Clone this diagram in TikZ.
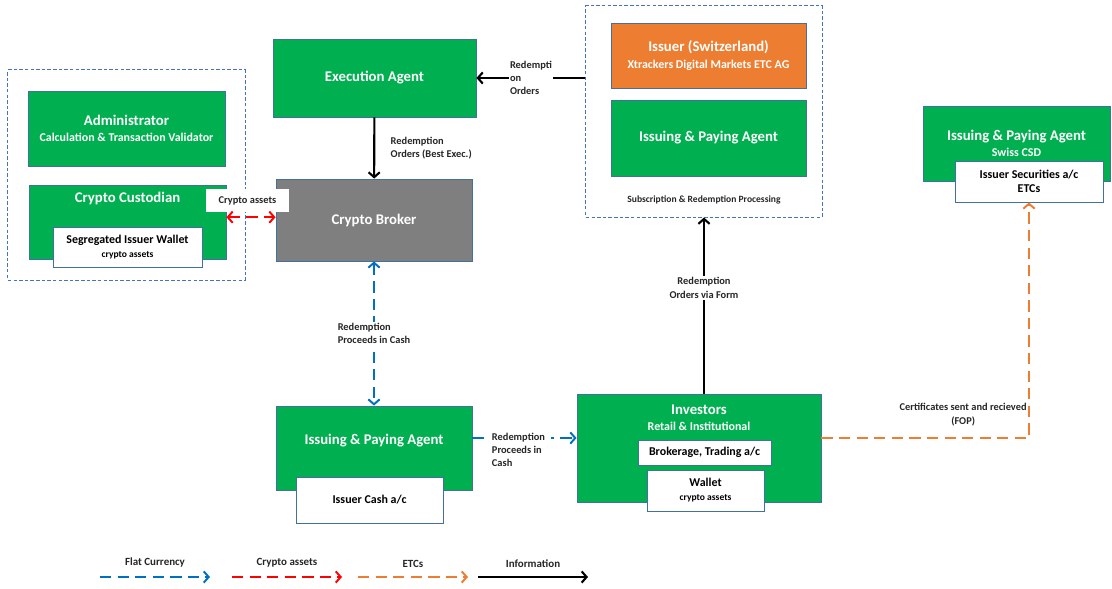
\documentclass[tikz,border=0pt]{standalone}
\usepackage{fontspec}
\setmainfont{Carlito}
\usepackage{tikz}
\usetikzlibrary{positioning, arrows.meta}

\definecolor{agentgreen}{HTML}{00B050}
\definecolor{issuerorange}{HTML}{ED7D31}
\definecolor{brokergray}{HTML}{7F7F7F}
\definecolor{boxline}{HTML}{41719C}
\definecolor{groupline}{HTML}{4472C4}
\definecolor{fiatblue}{HTML}{0070C0}
\definecolor{cryptored}{HTML}{FF0000}
\definecolor{etcorange}{HTML}{ED7D31}
\definecolor{lbltext}{HTML}{262626}

\newcommand{\SubSize}{\fontsize{8.5}{10}\selectfont}
\newcommand{\TinySize}{\fontsize{6.8}{8}\selectfont}

\tikzset{
  >={Straight Barb[length=3.5pt,width=8pt]},
  party/.style={draw=boxline, line width=0.6pt, fill=agentgreen, text=white,
    font=\fontsize{10.5}{12.5}\selectfont\bfseries, align=center, inner sep=0pt},
  ttl/.style={text=white, font=\fontsize{10.5}{12.5}\selectfont\bfseries, align=center, inner sep=0pt},
  acct/.style={draw=boxline, line width=0.6pt, fill=white,
    font=\fontsize{8.5}{10}\selectfont\bfseries, align=center, inner sep=0pt},
  group/.style={draw=groupline, line width=0.7pt, dash pattern=on 2.5pt off 1.5pt},
  lbl/.style={font=\fontsize{7.4}{9.5}\selectfont\bfseries, text=lbltext, align=left, fill=white, inner sep=1pt},
  info/.style={draw=black, line width=1.5pt},
  fiat/.style={draw=fiatblue, line width=1.4pt, dash pattern=on 8pt off 4.5pt},
  crypto/.style={draw=cryptored, line width=1.4pt, dash pattern=on 8pt off 4.5pt},
  etc/.style={draw=etcorange, line width=1.4pt, dash pattern=on 8pt off 4.5pt}
}

\begin{document}
\begin{tikzpicture}[x=0.025cm, y=-0.025cm]
\useasboundingbox (0,0) rectangle (1112,588);

% dashed groups
\node[group, minimum width=5.925cm, minimum height=5.25cm] (lgroup) at (126.5,175) {};
\node[group, minimum width=5.9cm, minimum height=5.275cm] (rgroup) at (704,111.5) {};

% left group
\node[party, minimum width=4.925cm, minimum height=1.875cm] (admin) at (126.5,128.5)
    {Administrator\\[-1pt]{\SubSize Calculation \& Transaction Validator}};
\node[party, minimum width=4.925cm, minimum height=1.85cm] (cust) at (127.5,222) {};
\node[ttl] (custT) at (127.5,198) {Crypto Custodian};
\node[acct, minimum width=3.725cm, minimum height=1cm] (segwallet) at (127.5,247)
    {Segregated Issuer Wallet\\{\TinySize crypto assets}};

% centre column
\node[party, minimum width=5.075cm, minimum height=1.95cm] (exec) at (374.5,78) {Execution Agent};
\node[party, fill=brokergray, minimum width=4.9cm, minimum height=2.05cm] (broker) at (374,220) {Crypto Broker};
\node[lbl, align=center, minimum width=2.075cm, minimum height=0.575cm] (cryptolbl) at (247.5,200.5) {Crypto assets};

% right group
\node[party, fill=issuerorange, minimum width=4.875cm, minimum height=1.625cm] (issuer) at (708.5,55.5)
    {Issuer (Switzerland)\\[-1pt]{\SubSize Xtrackers Digital Markets ETC AG}};
\node[party, minimum width=4.875cm, minimum height=1.9cm] (ipa) at (708.5,138) {Issuing \& Paying Agent};
\node[lbl, fill=none, font=\fontsize{6.8}{8}\selectfont\bfseries] (subred) at (704,200) {Subscription \& Redemption Processing};

% swiss csd
\node[party, minimum width=4.675cm, minimum height=1.875cm] (csd) at (1016.5,143.5)
    {Issuing \& Paying Agent\\[-1pt]{\SubSize Swiss CSD}};
\node[acct, minimum width=3.7cm, minimum height=1.025cm] (secac) at (1029,181.5) {Issuer Securities a/c\\ETCs};

% bottom row
\node[party, minimum width=4.9cm, minimum height=2.1cm] (cashipa) at (374,448) {};
\node[ttl] (cashipaT) at (374,441) {Issuing \& Paying Agent};
\node[acct, minimum width=3.675cm, minimum height=1.15cm] (cashac) at (369.5,500) {Issuer Cash a/c};
\node[party, minimum width=6.1cm, minimum height=2.7cm] (inv) at (699,448) {};
\node[ttl] (invT) at (699,418) {Investors\\[-1pt]{\SubSize Retail \& Institutional}};
\node[acct, minimum width=3.325cm, minimum height=0.625cm] (brokac) at (704.5,452.5) {Brokerage, Trading a/c};
\node[acct, minimum width=2.925cm, minimum height=1.025cm] (wallet) at (705.5,490.5)
    {Wallet\\{\TinySize crypto assets}};

% information flows
\draw[info, ->] (exec) -- (broker)
    node[lbl, fill=none, midway, right=0.35cm] {Redemption\\Orders (Best Exec.)};
\draw[info, ->] (rgroup.west |- exec) -- (exec)
    node[lbl, midway] {Redempti\\on\\Orders};
\draw[info, ->] (rgroup.south |- inv.north) -- (rgroup.south)
    node[lbl, pos=0.6, align=center] {Redemption\\Orders via Form};

% crypto assets
\coordinate (cryptoL) at ([yshift=0.12cm]cust.east);
\draw[crypto, <->] (cryptoL) -- (cryptoL -| broker.west);

% cash
\draw[fiat, <->] (broker) -- (cashipa)
    node[lbl, midway] {Redemption\\Proceeds in Cash};
\draw[fiat, ->] ([yshift=0.25cm]cashipa.east) -- ([yshift=0.25cm]inv.west)
    node[lbl, midway, yshift=-0.3cm, xshift=-0.15cm, inner xsep=4pt] {Redemption\\Proceeds in\\Cash};

% etcs
\draw[etc, ->] ([yshift=0.25cm]inv.east) -| (secac)
    node[lbl, fill=none, pos=0.5, anchor=south east, align=center, yshift=0.25cm] {Certificates sent and recieved\\(FOP)};

% legend
\foreach \x/\kind/\txt in {100/fiat/Flat Currency, 232/crypto/Crypto assets, 358/etc/ETCs, 478/info/Information}{
  \coordinate (\kind-a) at (\x,577);
  \coordinate (\kind-b) at (\x+110,577);
  \draw[\kind, ->] (\kind-a) -- (\kind-b)
      node[lbl, fill=none, midway, above=5pt, align=center, font=\fontsize{7.8}{9.5}\selectfont\bfseries] {\txt};
}
\end{tikzpicture}
\end{document}
